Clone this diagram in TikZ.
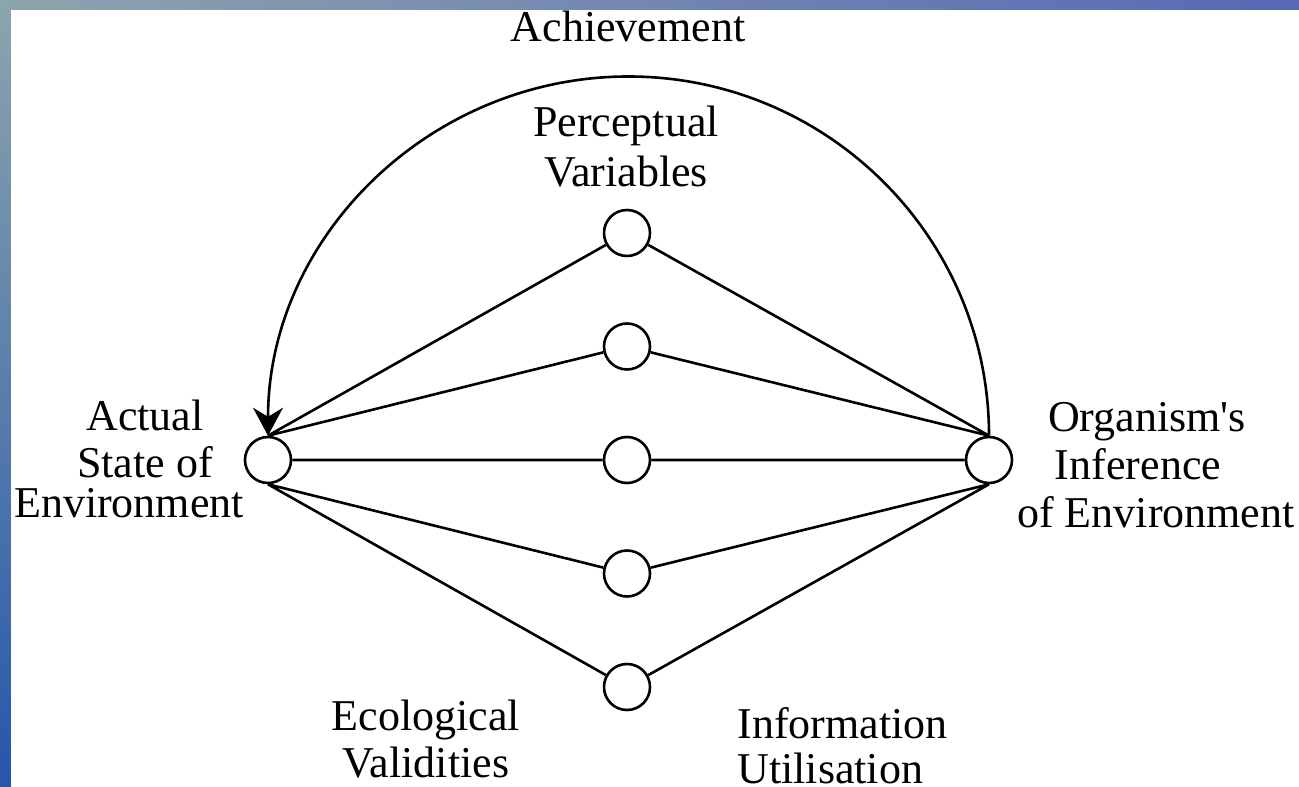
\documentclass[tikz,border=0pt]{standalone}
\usepackage{fontspec}
\setmainfont{Liberation Serif}
\usetikzlibrary{arrows.meta}

\definecolor{slideblue}{RGB}{88,104,182}
\definecolor{slidegrey}{RGB}{140,165,172}
\definecolor{slidedeep}{RGB}{38,86,172}

\begin{document}
\begin{tikzpicture}[x=0.5pt,y=0.5pt,
    cue/.style={draw,circle,line width=1.3pt,minimum size=23pt,inner sep=0pt},
    lbl/.style={inner sep=0pt,anchor=base,align=center,font=\fontsize{22}{24}\selectfont},
    lnk/.style={line width=1.3pt}]
  \useasboundingbox (0,0) rectangle (1299,786);
  % slide background
  \fill[top color=slidegrey,bottom color=slidedeep] (0,0) rectangle (11,786);
  \fill[left color=slidegrey,right color=slideblue] (0,776) rectangle (1299,786);
  \fill[white] (11,0) rectangle (1299,776);

  \node[cue] (env) at (268,326) {};
  \node[cue] (org) at (989,326) {};
  \foreach \i in {1,...,5}
    \node[cue] (cue\i) at (627,{553-113.5*(\i-1)}) {};
  \coordinate (apex) at (628.5,709.5);

  \draw[lnk] (env.north) -- (cue1) -- (org.north)
             (env.north) -- (cue2) -- (org.north)
             (env) -- (cue3) -- (org)
             (env.south) -- (cue4) -- (org.south)
             (env.south) -- (cue5) -- (org.south);
  \draw[lnk,-{Stealth[length=14pt,width=15pt]}]
    (org.north) to[out=90,in=0] (apex) to[out=180,in=90] (env.north);

  % labels, anchored at the baseline of their last line
  \node[lbl] (ach) at (628,744) {Achievement};
  \node[lbl,font=\fontsize{22}{25}\selectfont] (perc) at (626,599) {Perceptual\\Variables};
  \node[lbl,font=\fontsize{22}{23.5}\selectfont] (act) at (145,268) {Actual\\State of\\[-3.5pt]\hspace*{-16pt}Environment};
  \node[lbl] (inf) at (1147,258) {Organism\textquotesingle s\\\hspace*{-9pt}Inference\\\hspace*{9pt}of Environment};
  \node[lbl,font=\fontsize{22}{23.5}\selectfont] (eco) at (426,9) {Ecological\\Validities};
  \node[lbl,align=left,anchor=base west,font=\fontsize{22}{22.5}\selectfont] (util) at (737,3) {Information\\Utilisation};
\end{tikzpicture}
\end{document}
